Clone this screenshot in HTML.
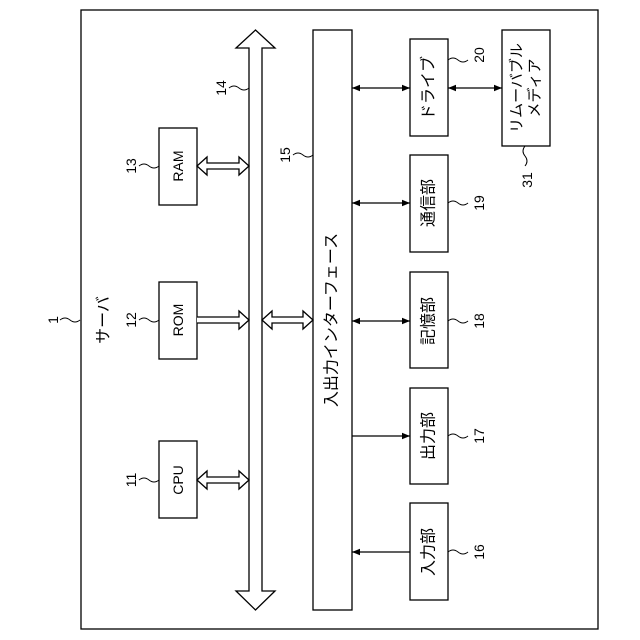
<!DOCTYPE html>
<html><head><meta charset="utf-8"><style>
html,body{margin:0;padding:0;background:#fff}
svg{display:block}
text{font-family:"Liberation Sans","Noto Sans CJK JP",sans-serif;fill:#000}
</style></head><body>
<svg width="640" height="640" viewBox="0 0 640 640" xmlns="http://www.w3.org/2000/svg">
<defs>
<marker id="ah" viewBox="0 0 10 10" refX="10" refY="5" markerWidth="10" markerHeight="8" markerUnits="userSpaceOnUse" orient="auto-start-reverse">
<path d="M0,1 L10,5 L0,9 Z" fill="#000"/></marker>
</defs>
<g fill="none" stroke="#000" stroke-width="1.3">
<rect x="81" y="10" width="517" height="619" fill="#fff"/>
<!-- bus -->
<path d="M249,48 L236,48 L255.5,30 L275,48 L262,48 L262,591 L275,591 L255.5,610 L236,591 L249,591 Z" fill="#fff"/>
<rect x="313" y="30" width="39" height="580" fill="#fff"/>
<rect x="159" y="128" width="38" height="77" fill="#fff"/>
<rect x="159" y="282" width="38" height="77" fill="#fff"/>
<rect x="159" y="441" width="38" height="77" fill="#fff"/>
<rect x="410" y="39" width="38" height="97" fill="#fff"/>
<rect x="410" y="155" width="38" height="97" fill="#fff"/>
<rect x="410" y="272" width="38" height="96" fill="#fff"/>
<rect x="410" y="388" width="38" height="96" fill="#fff"/>
<rect x="410" y="503" width="38" height="97" fill="#fff"/>
<rect x="502" y="30" width="48" height="116" fill="#fff"/>
<!-- hollow double arrows -->
<path d="M197,166 L207,157 L207,163 L239,163 L239,157 L249,166 L239,175 L239,169 L207,169 L207,175 Z" fill="#fff"/>
<path d="M197,480 L207,471 L207,477 L239,477 L239,471 L249,480 L239,489 L239,483 L207,483 L207,489 Z" fill="#fff"/>
<path d="M197,317 L239,317 L239,311 L249,320 L239,329 L239,323 L197,323" fill="#fff"/>
<path d="M262,320 L272,311 L272,317 L303,317 L303,311 L313,320 L303,329 L303,323 L272,323 L272,329 Z" fill="#fff"/>
<!-- solid arrows -->
<line x1="352" y1="88" x2="410" y2="88" marker-start="url(#ah)" marker-end="url(#ah)"/>
<line x1="448" y1="88" x2="502" y2="88" marker-start="url(#ah)" marker-end="url(#ah)"/>
<line x1="352" y1="203" x2="410" y2="203" marker-start="url(#ah)" marker-end="url(#ah)"/>
<line x1="352" y1="321" x2="410" y2="321" marker-start="url(#ah)" marker-end="url(#ah)"/>
<line x1="352" y1="436" x2="410" y2="436" marker-end="url(#ah)"/>
<line x1="410" y1="552" x2="352" y2="552" marker-end="url(#ah)"/>
<!-- squiggles -->
<g stroke-width="1">
<path d="M60,320 q5,-4 10,0 t10,0"/>
<path d="M139,166 q5,-4 10,0 t10,0"/>
<path d="M139,320 q5,-4 10,0 t10,0"/>
<path d="M139,480 q5,-4 10,0 t10,0"/>
<path d="M229,88 q5,-4 10,0 t10,0"/>
<path d="M293,155 q5,-4 10,0 t10,0"/>
<path d="M448,60 q5,-4 10,0 t10,0"/>
<path d="M448,203 q5,-4 10,0 t10,0"/>
<path d="M448,321 q5,-4 10,0 t10,0"/>
<path d="M448,436 q5,-4 10,0 t10,0"/>
<path d="M448,552 q5,-4 10,0 t10,0"/>
<path d="M525,146 q-4,5 0,10 t0,10"/>
</g>
</g>
<g font-size="14" text-anchor="middle" dominant-baseline="central">
<text transform="translate(53,320) rotate(-90)">1</text>
<text transform="translate(104,320) rotate(-90)" font-size="16">サーバ</text>
<text transform="translate(131,166) rotate(-90)">13</text>
<text transform="translate(131,320) rotate(-90)">12</text>
<text transform="translate(131,480) rotate(-90)">11</text>
<text transform="translate(221,88) rotate(-90)">14</text>
<text transform="translate(285,155) rotate(-90)">15</text>
<text transform="translate(479,55) rotate(-90)">20</text>
<text transform="translate(479,203) rotate(-90)">19</text>
<text transform="translate(479,321) rotate(-90)">18</text>
<text transform="translate(479,436) rotate(-90)">17</text>
<text transform="translate(479,552) rotate(-90)">16</text>
<text transform="translate(527,180) rotate(-90)">31</text>
<text transform="translate(178,166) rotate(-90)">RAM</text>
<text transform="translate(178,320) rotate(-90)">ROM</text>
<text transform="translate(178,480) rotate(-90)">CPU</text>
<text transform="translate(332,320) rotate(-90)" font-size="16">入出力インターフェース</text>
<text transform="translate(429,88) rotate(-90)" font-size="16">ドライブ</text>
<text transform="translate(429,203) rotate(-90)" font-size="16">通信部</text>
<text transform="translate(429,321) rotate(-90)" font-size="16">記憶部</text>
<text transform="translate(429,436) rotate(-90)" font-size="16">出力部</text>
<text transform="translate(429,552) rotate(-90)" font-size="16">入力部</text>
<text transform="translate(517,88) rotate(-90)" font-size="15">リムーバブル</text>
<text transform="translate(535,88) rotate(-90)" font-size="15">メディア</text>
</g>
</svg>
</body></html>
